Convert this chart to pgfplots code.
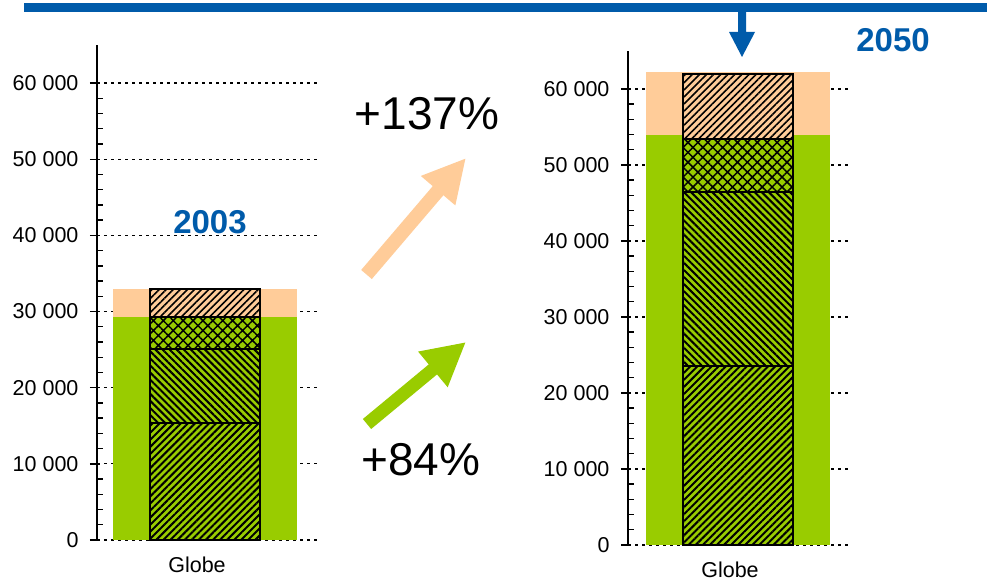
\documentclass[border=0pt]{standalone}
\usepackage{pgfplots}
\pgfplotsset{compat=1.18}
\usepackage{fontspec}
\setmainfont{Liberation Sans}
\usetikzlibrary{patterns.meta,arrows.meta}
\definecolor{lgreen}{HTML}{99CC00}
\definecolor{peach}{HTML}{FFCC99}
\definecolor{dblue}{HTML}{005BAA}

\pgfplotsset{
  base/.style={scale only axis, anchor=south west, ymin=0, ymax=65000,
    enlargelimits=false, ybar stacked, clip=false},
  framed/.style={axis lines*=left, x axis line style={draw=none},
    scaled y ticks=false,
    ytick={0,10000,...,60000},
    yticklabels={0,{10 000},{20 000},{30 000},{40 000},{50 000},{60 000}},
    minor y tick num=4, tick align=inside,
    major tick length=10pt, minor tick length=6pt,
    every major tick/.append style={xshift=-7pt},
    y axis line style={line width=1.4pt, black},
    ytick style={line width=1.4pt, black},
    minor tick style={line width=1.4pt, black},
    xtick={-8}, xticklabels={Globe}, xtick style={draw=none},
    ymajorgrids,
    major grid style={black, line width=1.3pt, dash pattern=on 3pt off 4pt},
    tick label style={font=\fontsize{21.5}{25}\selectfont},
    /pgf/number format/assume math mode=true,
    yticklabel style={xshift=-15pt},
    xticklabel style={yshift=-13pt}},
  wide/.style={bar width=184},
  narrow/.style={bar width=110, hide axis},
  hA/.style={fill=lgreen, draw=black, line width=1.5pt,
    postaction={pattern={Lines[angle=45,distance=5pt,line width=2pt]}, pattern color=black}},
  hB/.style={fill=lgreen, draw=black, line width=1.5pt,
    postaction={pattern={Lines[angle=-45,distance=5pt,line width=2pt]}, pattern color=black}},
  hC/.style={fill=lgreen, draw=black, line width=1.5pt,
    postaction={pattern={Hatch[angle=45,distance=7pt,line width=1.5pt]}, pattern color=black}},
  hD/.style={fill=peach, draw=black, line width=1.5pt,
    postaction={pattern={Lines[angle=45,distance=5pt,line width=1.6pt]}, pattern color=black}},
}

\begin{document}
\begin{tikzpicture}[x=1pt,y=1pt]
\path[use as bounding box] (0,0) rectangle (987,583);

% ---------- 2003 ----------
\begin{axis}[base, framed, wide, at={(97pt,43pt)}, width=223pt, height=495pt,
  xmin=-108, xmax=115]
\addplot[fill=lgreen, draw=none] coordinates {(0,29280)};
\addplot[fill=peach, draw=none] coordinates {(0,3680)};
\end{axis}
\begin{axis}[base, narrow, at={(97pt,43pt)}, width=223pt, height=495pt,
  xmin=-108, xmax=115]
\addplot[hA] coordinates {(0,15360)};
\addplot[hB] coordinates {(0,9720)};
\addplot[hC] coordinates {(0,4200)};
\addplot[hD] coordinates {(0,3680)};
\end{axis}

% ---------- 2050 ----------
\begin{axis}[base, framed, wide, at={(628pt,38pt)}, width=222pt, height=494pt,
  xmin=-110, xmax=112]
\addplot[fill=lgreen, draw=none] coordinates {(0,54000)};
\addplot[fill=peach, draw=none] coordinates {(0,8250)};
\end{axis}
\begin{axis}[base, narrow, at={(628pt,38pt)}, width=222pt, height=494pt,
  xmin=-110, xmax=112]
\addplot[hA] coordinates {(0,23550)};
\addplot[hB] coordinates {(0,22900)};
\addplot[hC] coordinates {(0,6970)};
\addplot[hD] coordinates {(0,8550)};
\end{axis}

% ---------- decorations ----------
\fill[dblue] (24,571) rectangle (987,580);
\fill[dblue] (738,572) -- (746,572) -- (746,551) -- (755,551) -- (742,526)
  -- (729,551) -- (738,551) -- cycle;
\node[dblue, font=\fontsize{33}{38}\selectfont\bfseries] at (893,543) {2050};
\node[dblue, font=\fontsize{33}{38}\selectfont\bfseries] at (210,361) {2003};

\draw[peach, line width=14pt, -{Triangle[width=42pt,length=43pt]}] (366.5,308.5) -- (466,425);
\draw[lgreen, line width=13pt, -{Triangle[width=43pt,length=43pt]}] (367,159) -- (466,241);

\node[font=\fontsize{46}{54}\selectfont] at (427,469) {+137\%};
\node[font=\fontsize{46}{54}\selectfont] at (421,123) {+84\%};
\end{tikzpicture}
\end{document}
